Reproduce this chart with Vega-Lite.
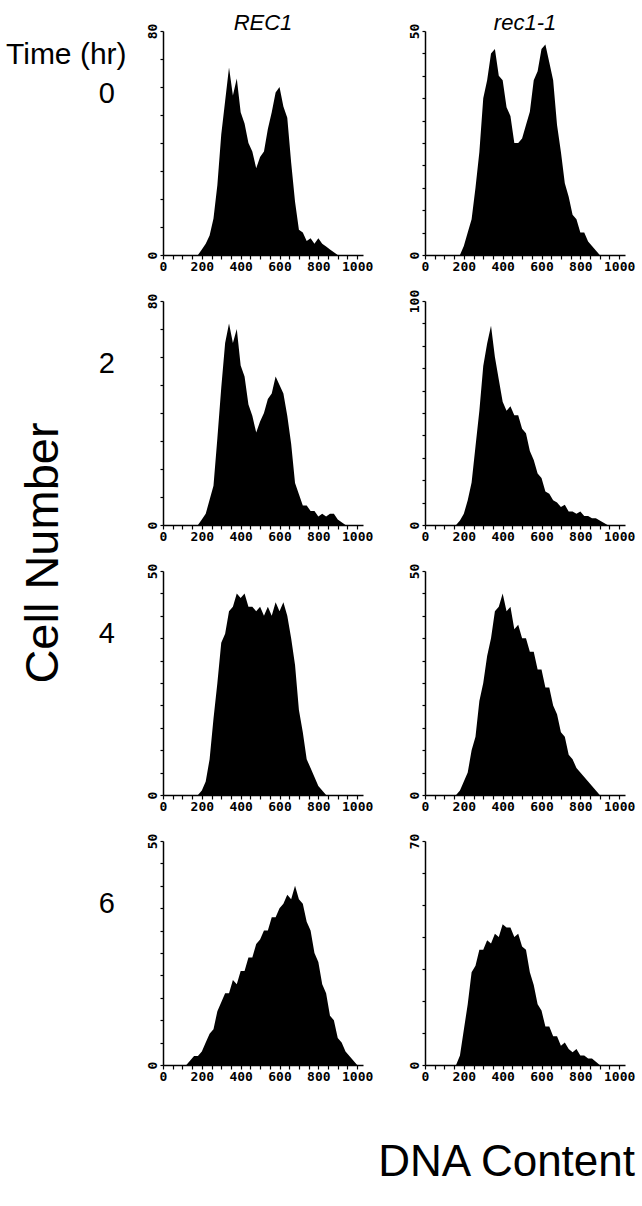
{
"$schema": "https://vega.github.io/schema/vega-lite/v6.json",
"background": "white",
"padding": {"left": 5, "right": 5, "top": 12, "bottom": 5},
"title": {"text": "Time (hr)", "anchor": "start", "frame": "bounds", "dx": -14, "dy": 62, "fontSize": 30, "font": "Liberation Sans", "fontWeight": "normal", "color": "black"},
"datasets": {
"h": [
{"t":0,"s":"REC1","top":80},{"t":0,"s":"rec1-1","top":50},{"t":2,"s":"REC1","top":80},{"t":2,"s":"rec1-1","top":100},
{"t":4,"s":"REC1","top":50},{"t":4,"s":"rec1-1","top":50},{"t":6,"s":"REC1","top":50},{"t":6,"s":"rec1-1","top":70},
{"t":0,"s":"REC1","x":180,"n":0},{"t":0,"s":"REC1","x":200,"n":2},{"t":0,"s":"REC1","x":220,"n":4},{"t":0,"s":"REC1","x":240,"n":7},{"t":0,"s":"REC1","x":260,"n":13},{"t":0,"s":"REC1","x":280,"n":25},{"t":0,"s":"REC1","x":300,"n":43},{"t":0,"s":"REC1","x":320,"n":55},{"t":0,"s":"REC1","x":340,"n":67},{"t":0,"s":"REC1","x":360,"n":57},{"t":0,"s":"REC1","x":380,"n":63},{"t":0,"s":"REC1","x":400,"n":51},{"t":0,"s":"REC1","x":420,"n":47},{"t":0,"s":"REC1","x":440,"n":40},{"t":0,"s":"REC1","x":460,"n":37},{"t":0,"s":"REC1","x":480,"n":31},{"t":0,"s":"REC1","x":500,"n":35},{"t":0,"s":"REC1","x":520,"n":37},{"t":0,"s":"REC1","x":540,"n":45},{"t":0,"s":"REC1","x":560,"n":51},{"t":0,"s":"REC1","x":580,"n":58},{"t":0,"s":"REC1","x":600,"n":60},{"t":0,"s":"REC1","x":620,"n":53},{"t":0,"s":"REC1","x":640,"n":49},{"t":0,"s":"REC1","x":660,"n":33},{"t":0,"s":"REC1","x":680,"n":19},{"t":0,"s":"REC1","x":700,"n":9},{"t":0,"s":"REC1","x":720,"n":8},{"t":0,"s":"REC1","x":740,"n":5},{"t":0,"s":"REC1","x":760,"n":6},{"t":0,"s":"REC1","x":780,"n":4},{"t":0,"s":"REC1","x":800,"n":6},{"t":0,"s":"REC1","x":820,"n":4},{"t":0,"s":"REC1","x":840,"n":3},{"t":0,"s":"REC1","x":860,"n":2},{"t":0,"s":"REC1","x":880,"n":1},{"t":0,"s":"REC1","x":900,"n":0},
{"t":0,"s":"rec1-1","x":180,"n":0},{"t":0,"s":"rec1-1","x":200,"n":2},{"t":0,"s":"rec1-1","x":220,"n":5},{"t":0,"s":"rec1-1","x":240,"n":8},{"t":0,"s":"rec1-1","x":260,"n":15},{"t":0,"s":"rec1-1","x":280,"n":23},{"t":0,"s":"rec1-1","x":300,"n":35},{"t":0,"s":"rec1-1","x":320,"n":39},{"t":0,"s":"rec1-1","x":340,"n":45},{"t":0,"s":"rec1-1","x":360,"n":46},{"t":0,"s":"rec1-1","x":380,"n":40},{"t":0,"s":"rec1-1","x":400,"n":39},{"t":0,"s":"rec1-1","x":420,"n":33},{"t":0,"s":"rec1-1","x":440,"n":31},{"t":0,"s":"rec1-1","x":460,"n":25},{"t":0,"s":"rec1-1","x":480,"n":25},{"t":0,"s":"rec1-1","x":500,"n":26},{"t":0,"s":"rec1-1","x":520,"n":29},{"t":0,"s":"rec1-1","x":540,"n":32},{"t":0,"s":"rec1-1","x":560,"n":39},{"t":0,"s":"rec1-1","x":580,"n":41},{"t":0,"s":"rec1-1","x":600,"n":46},{"t":0,"s":"rec1-1","x":620,"n":47},{"t":0,"s":"rec1-1","x":640,"n":43},{"t":0,"s":"rec1-1","x":660,"n":39},{"t":0,"s":"rec1-1","x":680,"n":29},{"t":0,"s":"rec1-1","x":700,"n":23},{"t":0,"s":"rec1-1","x":720,"n":16},{"t":0,"s":"rec1-1","x":740,"n":13},{"t":0,"s":"rec1-1","x":760,"n":9},{"t":0,"s":"rec1-1","x":780,"n":8},{"t":0,"s":"rec1-1","x":800,"n":5},{"t":0,"s":"rec1-1","x":820,"n":5},{"t":0,"s":"rec1-1","x":840,"n":3},{"t":0,"s":"rec1-1","x":860,"n":2},{"t":0,"s":"rec1-1","x":880,"n":1},{"t":0,"s":"rec1-1","x":900,"n":0},
{"t":2,"s":"REC1","x":180,"n":0},{"t":2,"s":"REC1","x":200,"n":2},{"t":2,"s":"REC1","x":220,"n":4},{"t":2,"s":"REC1","x":240,"n":9},{"t":2,"s":"REC1","x":260,"n":14},{"t":2,"s":"REC1","x":280,"n":31},{"t":2,"s":"REC1","x":300,"n":49},{"t":2,"s":"REC1","x":320,"n":65},{"t":2,"s":"REC1","x":340,"n":72},{"t":2,"s":"REC1","x":360,"n":65},{"t":2,"s":"REC1","x":380,"n":70},{"t":2,"s":"REC1","x":400,"n":57},{"t":2,"s":"REC1","x":420,"n":53},{"t":2,"s":"REC1","x":440,"n":43},{"t":2,"s":"REC1","x":460,"n":39},{"t":2,"s":"REC1","x":480,"n":33},{"t":2,"s":"REC1","x":500,"n":37},{"t":2,"s":"REC1","x":520,"n":40},{"t":2,"s":"REC1","x":540,"n":45},{"t":2,"s":"REC1","x":560,"n":47},{"t":2,"s":"REC1","x":580,"n":53},{"t":2,"s":"REC1","x":600,"n":50},{"t":2,"s":"REC1","x":620,"n":47},{"t":2,"s":"REC1","x":640,"n":39},{"t":2,"s":"REC1","x":660,"n":29},{"t":2,"s":"REC1","x":680,"n":15},{"t":2,"s":"REC1","x":700,"n":11},{"t":2,"s":"REC1","x":720,"n":7},{"t":2,"s":"REC1","x":740,"n":7},{"t":2,"s":"REC1","x":760,"n":5},{"t":2,"s":"REC1","x":780,"n":5},{"t":2,"s":"REC1","x":800,"n":3},{"t":2,"s":"REC1","x":820,"n":4},{"t":2,"s":"REC1","x":840,"n":3},{"t":2,"s":"REC1","x":860,"n":4},{"t":2,"s":"REC1","x":880,"n":4},{"t":2,"s":"REC1","x":900,"n":2},{"t":2,"s":"REC1","x":920,"n":1},{"t":2,"s":"REC1","x":940,"n":0},
{"t":2,"s":"rec1-1","x":160,"n":0},{"t":2,"s":"rec1-1","x":180,"n":2},{"t":2,"s":"rec1-1","x":200,"n":5},{"t":2,"s":"rec1-1","x":220,"n":11},{"t":2,"s":"rec1-1","x":240,"n":19},{"t":2,"s":"rec1-1","x":260,"n":35},{"t":2,"s":"rec1-1","x":280,"n":51},{"t":2,"s":"rec1-1","x":300,"n":71},{"t":2,"s":"rec1-1","x":320,"n":81},{"t":2,"s":"rec1-1","x":340,"n":89},{"t":2,"s":"rec1-1","x":360,"n":75},{"t":2,"s":"rec1-1","x":380,"n":65},{"t":2,"s":"rec1-1","x":400,"n":55},{"t":2,"s":"rec1-1","x":420,"n":51},{"t":2,"s":"rec1-1","x":440,"n":53},{"t":2,"s":"rec1-1","x":460,"n":49},{"t":2,"s":"rec1-1","x":480,"n":49},{"t":2,"s":"rec1-1","x":500,"n":43},{"t":2,"s":"rec1-1","x":520,"n":41},{"t":2,"s":"rec1-1","x":540,"n":33},{"t":2,"s":"rec1-1","x":560,"n":29},{"t":2,"s":"rec1-1","x":580,"n":23},{"t":2,"s":"rec1-1","x":600,"n":21},{"t":2,"s":"rec1-1","x":620,"n":15},{"t":2,"s":"rec1-1","x":640,"n":14},{"t":2,"s":"rec1-1","x":660,"n":11},{"t":2,"s":"rec1-1","x":680,"n":10},{"t":2,"s":"rec1-1","x":700,"n":8},{"t":2,"s":"rec1-1","x":720,"n":9},{"t":2,"s":"rec1-1","x":740,"n":6},{"t":2,"s":"rec1-1","x":760,"n":6},{"t":2,"s":"rec1-1","x":780,"n":5},{"t":2,"s":"rec1-1","x":800,"n":6},{"t":2,"s":"rec1-1","x":820,"n":4},{"t":2,"s":"rec1-1","x":840,"n":4},{"t":2,"s":"rec1-1","x":860,"n":3},{"t":2,"s":"rec1-1","x":880,"n":3},{"t":2,"s":"rec1-1","x":900,"n":2},{"t":2,"s":"rec1-1","x":920,"n":1},{"t":2,"s":"rec1-1","x":940,"n":0},
{"t":4,"s":"REC1","x":180,"n":0},{"t":4,"s":"REC1","x":200,"n":1},{"t":4,"s":"REC1","x":220,"n":3},{"t":4,"s":"REC1","x":240,"n":8},{"t":4,"s":"REC1","x":260,"n":17},{"t":4,"s":"REC1","x":280,"n":25},{"t":4,"s":"REC1","x":300,"n":34},{"t":4,"s":"REC1","x":320,"n":36},{"t":4,"s":"REC1","x":340,"n":41},{"t":4,"s":"REC1","x":360,"n":42},{"t":4,"s":"REC1","x":380,"n":45},{"t":4,"s":"REC1","x":400,"n":44},{"t":4,"s":"REC1","x":420,"n":45},{"t":4,"s":"REC1","x":440,"n":42},{"t":4,"s":"REC1","x":460,"n":42},{"t":4,"s":"REC1","x":480,"n":41},{"t":4,"s":"REC1","x":500,"n":42},{"t":4,"s":"REC1","x":520,"n":40},{"t":4,"s":"REC1","x":540,"n":42},{"t":4,"s":"REC1","x":560,"n":40},{"t":4,"s":"REC1","x":580,"n":43},{"t":4,"s":"REC1","x":600,"n":41},{"t":4,"s":"REC1","x":620,"n":43},{"t":4,"s":"REC1","x":640,"n":40},{"t":4,"s":"REC1","x":660,"n":35},{"t":4,"s":"REC1","x":680,"n":29},{"t":4,"s":"REC1","x":700,"n":19},{"t":4,"s":"REC1","x":720,"n":14},{"t":4,"s":"REC1","x":740,"n":8},{"t":4,"s":"REC1","x":760,"n":6},{"t":4,"s":"REC1","x":780,"n":4},{"t":4,"s":"REC1","x":800,"n":2},{"t":4,"s":"REC1","x":820,"n":1},{"t":4,"s":"REC1","x":840,"n":0},
{"t":4,"s":"rec1-1","x":160,"n":0},{"t":4,"s":"rec1-1","x":180,"n":1},{"t":4,"s":"rec1-1","x":200,"n":3},{"t":4,"s":"rec1-1","x":220,"n":5},{"t":4,"s":"rec1-1","x":240,"n":10},{"t":4,"s":"rec1-1","x":260,"n":13},{"t":4,"s":"rec1-1","x":280,"n":21},{"t":4,"s":"rec1-1","x":300,"n":25},{"t":4,"s":"rec1-1","x":320,"n":31},{"t":4,"s":"rec1-1","x":340,"n":35},{"t":4,"s":"rec1-1","x":360,"n":41},{"t":4,"s":"rec1-1","x":380,"n":42},{"t":4,"s":"rec1-1","x":400,"n":45},{"t":4,"s":"rec1-1","x":420,"n":41},{"t":4,"s":"rec1-1","x":440,"n":42},{"t":4,"s":"rec1-1","x":460,"n":37},{"t":4,"s":"rec1-1","x":480,"n":38},{"t":4,"s":"rec1-1","x":500,"n":35},{"t":4,"s":"rec1-1","x":520,"n":35},{"t":4,"s":"rec1-1","x":540,"n":32},{"t":4,"s":"rec1-1","x":560,"n":32},{"t":4,"s":"rec1-1","x":580,"n":28},{"t":4,"s":"rec1-1","x":600,"n":28},{"t":4,"s":"rec1-1","x":620,"n":24},{"t":4,"s":"rec1-1","x":640,"n":24},{"t":4,"s":"rec1-1","x":660,"n":20},{"t":4,"s":"rec1-1","x":680,"n":18},{"t":4,"s":"rec1-1","x":700,"n":14},{"t":4,"s":"rec1-1","x":720,"n":13},{"t":4,"s":"rec1-1","x":740,"n":9},{"t":4,"s":"rec1-1","x":760,"n":8},{"t":4,"s":"rec1-1","x":780,"n":6},{"t":4,"s":"rec1-1","x":800,"n":5},{"t":4,"s":"rec1-1","x":820,"n":4},{"t":4,"s":"rec1-1","x":840,"n":3},{"t":4,"s":"rec1-1","x":860,"n":2},{"t":4,"s":"rec1-1","x":880,"n":1},{"t":4,"s":"rec1-1","x":900,"n":0},
{"t":6,"s":"REC1","x":120,"n":0},{"t":6,"s":"REC1","x":140,"n":1},{"t":6,"s":"REC1","x":160,"n":2},{"t":6,"s":"REC1","x":180,"n":2},{"t":6,"s":"REC1","x":200,"n":3},{"t":6,"s":"REC1","x":220,"n":5},{"t":6,"s":"REC1","x":240,"n":7},{"t":6,"s":"REC1","x":260,"n":8},{"t":6,"s":"REC1","x":280,"n":12},{"t":6,"s":"REC1","x":300,"n":14},{"t":6,"s":"REC1","x":320,"n":16},{"t":6,"s":"REC1","x":340,"n":16},{"t":6,"s":"REC1","x":360,"n":19},{"t":6,"s":"REC1","x":380,"n":18},{"t":6,"s":"REC1","x":400,"n":21},{"t":6,"s":"REC1","x":420,"n":21},{"t":6,"s":"REC1","x":440,"n":24},{"t":6,"s":"REC1","x":460,"n":24},{"t":6,"s":"REC1","x":480,"n":27},{"t":6,"s":"REC1","x":500,"n":28},{"t":6,"s":"REC1","x":520,"n":30},{"t":6,"s":"REC1","x":540,"n":30},{"t":6,"s":"REC1","x":560,"n":33},{"t":6,"s":"REC1","x":580,"n":33},{"t":6,"s":"REC1","x":600,"n":35},{"t":6,"s":"REC1","x":620,"n":36},{"t":6,"s":"REC1","x":640,"n":38},{"t":6,"s":"REC1","x":660,"n":37},{"t":6,"s":"REC1","x":680,"n":40},{"t":6,"s":"REC1","x":700,"n":37},{"t":6,"s":"REC1","x":720,"n":36},{"t":6,"s":"REC1","x":740,"n":32},{"t":6,"s":"REC1","x":760,"n":30},{"t":6,"s":"REC1","x":780,"n":25},{"t":6,"s":"REC1","x":800,"n":23},{"t":6,"s":"REC1","x":820,"n":18},{"t":6,"s":"REC1","x":840,"n":16},{"t":6,"s":"REC1","x":860,"n":11},{"t":6,"s":"REC1","x":880,"n":10},{"t":6,"s":"REC1","x":900,"n":6},{"t":6,"s":"REC1","x":920,"n":5},{"t":6,"s":"REC1","x":940,"n":3},{"t":6,"s":"REC1","x":960,"n":2},{"t":6,"s":"REC1","x":980,"n":1},{"t":6,"s":"REC1","x":1000,"n":0},
{"t":6,"s":"rec1-1","x":160,"n":0},{"t":6,"s":"rec1-1","x":180,"n":3},{"t":6,"s":"rec1-1","x":200,"n":11},{"t":6,"s":"rec1-1","x":220,"n":19},{"t":6,"s":"rec1-1","x":240,"n":29},{"t":6,"s":"rec1-1","x":260,"n":31},{"t":6,"s":"rec1-1","x":280,"n":36},{"t":6,"s":"rec1-1","x":300,"n":36},{"t":6,"s":"rec1-1","x":320,"n":39},{"t":6,"s":"rec1-1","x":340,"n":38},{"t":6,"s":"rec1-1","x":360,"n":41},{"t":6,"s":"rec1-1","x":380,"n":40},{"t":6,"s":"rec1-1","x":400,"n":44},{"t":6,"s":"rec1-1","x":420,"n":43},{"t":6,"s":"rec1-1","x":440,"n":43},{"t":6,"s":"rec1-1","x":460,"n":40},{"t":6,"s":"rec1-1","x":480,"n":41},{"t":6,"s":"rec1-1","x":500,"n":37},{"t":6,"s":"rec1-1","x":520,"n":36},{"t":6,"s":"rec1-1","x":540,"n":29},{"t":6,"s":"rec1-1","x":560,"n":25},{"t":6,"s":"rec1-1","x":580,"n":19},{"t":6,"s":"rec1-1","x":600,"n":17},{"t":6,"s":"rec1-1","x":620,"n":12},{"t":6,"s":"rec1-1","x":640,"n":12},{"t":6,"s":"rec1-1","x":660,"n":9},{"t":6,"s":"rec1-1","x":680,"n":9},{"t":6,"s":"rec1-1","x":700,"n":6},{"t":6,"s":"rec1-1","x":720,"n":7},{"t":6,"s":"rec1-1","x":740,"n":5},{"t":6,"s":"rec1-1","x":760,"n":4},{"t":6,"s":"rec1-1","x":780,"n":5},{"t":6,"s":"rec1-1","x":800,"n":3},{"t":6,"s":"rec1-1","x":820,"n":3},{"t":6,"s":"rec1-1","x":840,"n":2},{"t":6,"s":"rec1-1","x":860,"n":2},{"t":6,"s":"rec1-1","x":880,"n":1},{"t":6,"s":"rec1-1","x":900,"n":0}
]
},
"data": {"name": "h"},
"facet": {
  "row": {"field": "t", "type": "ordinal", "title": "Cell Number",
    "header": {"labelAngle": 0, "labelAnchor": "middle", "labelAlign": "right", "labelBaseline": "line-bottom", "labelLineHeight": 96, "labelFontSize": 29, "labelFont": "Liberation Sans", "labelColor": "black", "labelPadding": 15, "titleFontSize": 47, "titleFont": "Liberation Sans", "titleFontWeight": "normal", "titleColor": "black", "titlePadding": 20}},
  "column": {"field": "s", "type": "nominal", "sort": ["REC1", "rec1-1"], "title": "DNA Content\u00a0\u00a0\u00a0",
    "header": {"labelOrient": "top", "titleOrient": "bottom", "titleAnchor": "end", "labelFontSize": 22, "labelFontStyle": "italic", "labelFont": "Liberation Sans", "labelColor": "black", "labelPadding": -12, "titleFontSize": 44, "titleFont": "Liberation Sans", "titleFontWeight": "normal", "titleColor": "black", "titlePadding": 48}}
},
"spacing": {"row": 16, "column": 34},
"resolve": {"scale": {"y": "independent"}, "axis": {"x": "independent"}},
"spec": {
  "width": 200, "height": 224,
  "layer": [
    {"transform": [{"filter": "isValid(datum.n)"}],
     "mark": {"type": "area", "color": "black", "interpolate": "linear"},
     "encoding": {
       "x": {"field": "x", "type": "quantitative", "scale": {"domain": [0, 1030], "nice": false},
         "axis": {"title": null, "values": [0,50,100,150,200,250,300,350,400,450,500,550,600,650,700,750,800,850,900,950,1000], "labelExpr": "datum.value % 200 == 0 ? datum.label : ''", "format": "d", "tickSize": 4, "tickColor": "black", "tickWidth": 1.2, "domainColor": "black", "domainWidth": 1.5, "labelFont": "DejaVu Sans Mono", "labelFontWeight": "bold", "labelFontSize": 13, "labelColor": "black", "labelOverlap": false, "labelFlush": false, "labelPadding": 1, "grid": false}},
       "y": {"field": "n", "type": "quantitative", "scale": {"zero": true, "nice": false},
         "axis": {"title": null, "tickCount": 8, "labelExpr": "datum.index == 0 || datum.index == 1 ? datum.label : ''", "labelAngle": -90, "labelAlign": "center", "labelBaseline": "bottom", "tickSize": 3, "tickColor": "black", "tickWidth": 1.2, "domainColor": "black", "domainWidth": 1.5, "labelFont": "DejaVu Sans Mono", "labelFontWeight": "bold", "labelFontSize": 13, "labelColor": "black", "labelOverlap": false, "labelFlush": false, "labelPadding": 1, "grid": false}}
     }},
    {"transform": [{"filter": "isValid(datum.top)"}],
     "mark": {"type": "point", "opacity": 0},
     "encoding": {"y": {"field": "top", "type": "quantitative", "axis": {"title": null}}}}
  ]
},
"config": {"view": {"stroke": null}}
}
